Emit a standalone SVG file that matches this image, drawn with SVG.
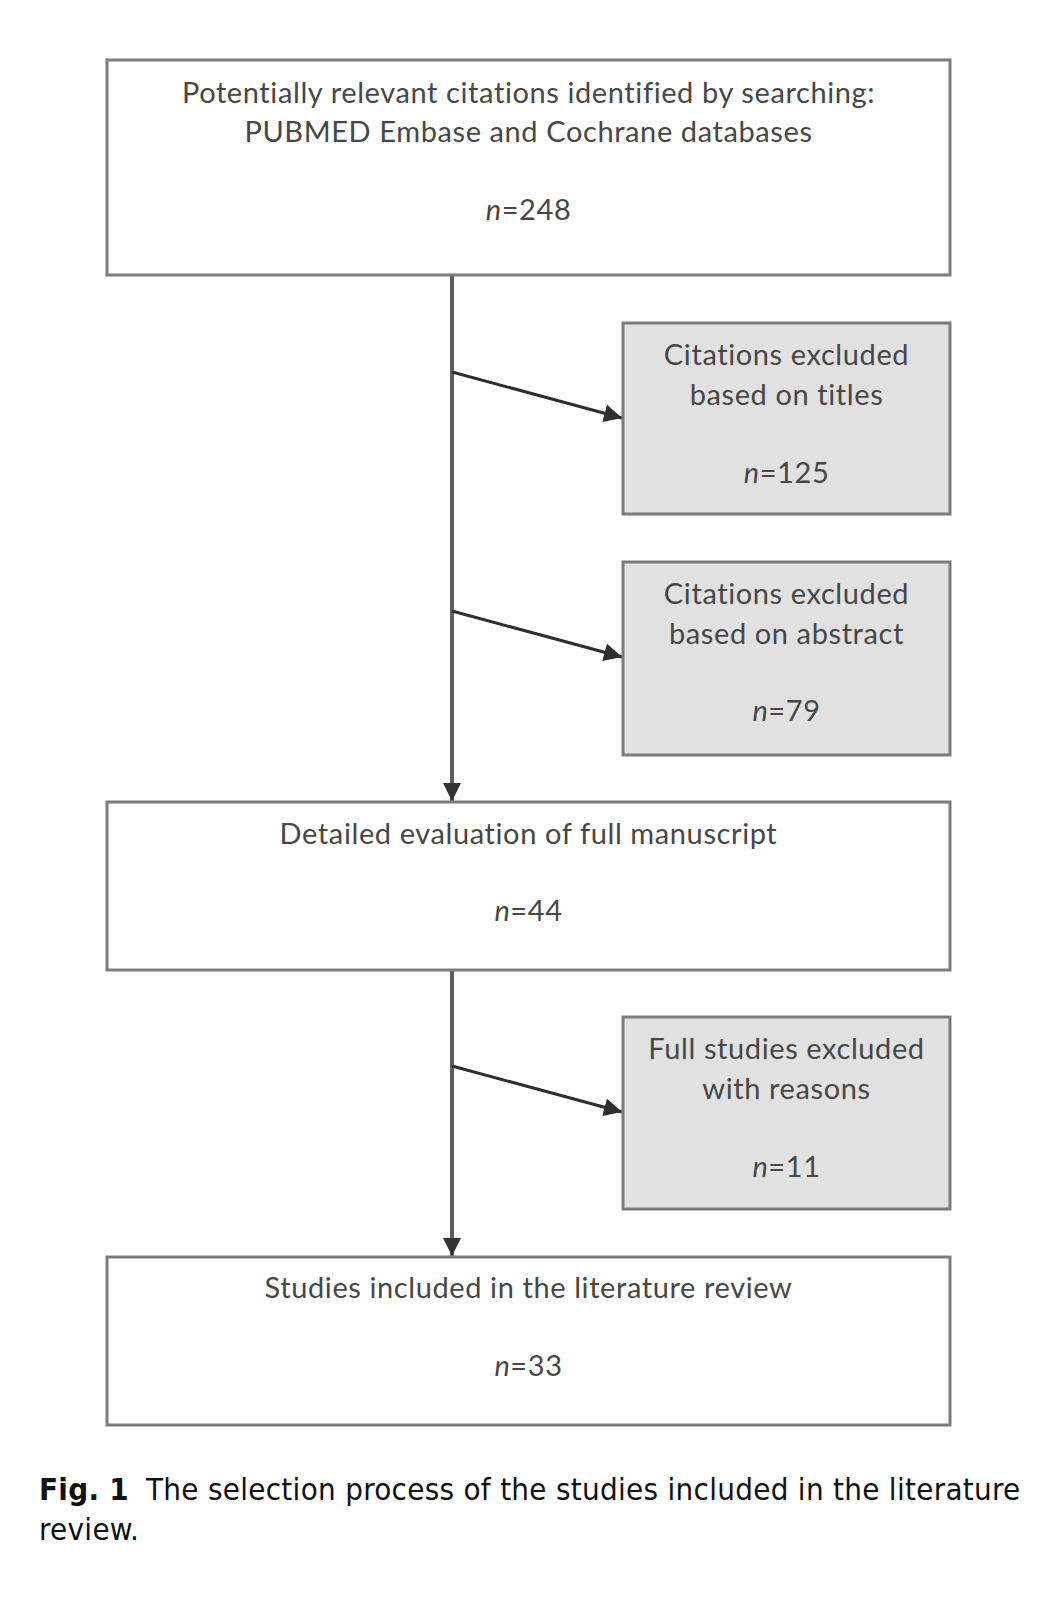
<svg xmlns="http://www.w3.org/2000/svg" width="1056" height="1600" viewBox="0 0 1056 1600">
<defs>
<style>
.box{fill:#ffffff;stroke:#7c7c7c;stroke-width:3}
.gbox{fill:#e1e1e1;stroke:#7c7c7c;stroke-width:3}
.t{font-family:Lato,"Open Sans","Liberation Sans",sans-serif;font-size:29px;letter-spacing:0.6px;fill:#474747;text-anchor:middle}
.it{font-style:italic}
.main{stroke:#5e5e5e;stroke-width:4;fill:none}
.side{stroke:#2e2e2e;stroke-width:3;fill:none}
.cap{font-family:"DejaVu Sans Condensed","DejaVu Sans",sans-serif;font-size:31px;letter-spacing:0.3px;fill:#111}
</style>
<marker id="ah" viewBox="0 0 10 10" refX="10" refY="5" markerWidth="6" markerHeight="6" markerUnits="strokeWidth" orient="auto">
<path d="M0,0 L10,5 L0,10 z" fill="#2e2e2e"/>
</marker>
<marker id="ahd" viewBox="0 0 10 10" refX="10" refY="5" markerWidth="4.5" markerHeight="4.5" markerUnits="strokeWidth" orient="auto">
<path d="M0,0 L10,5 L0,10 z" fill="#333"/>
</marker>
</defs>
<rect width="1056" height="1600" fill="#ffffff"/>

<g id="connectors">
<line class="main" x1="452" y1="275" x2="452" y2="801" marker-end="url(#ahd)"/>
<line class="main" x1="452" y1="970" x2="452" y2="1256" marker-end="url(#ahd)"/>
<line class="side" x1="452" y1="372" x2="622" y2="418" marker-end="url(#ah)"/>
<line class="side" x1="452" y1="611" x2="622" y2="657" marker-end="url(#ah)"/>
<line class="side" x1="452" y1="1066" x2="622" y2="1112" marker-end="url(#ah)"/>
</g>

<g id="n1">
<rect class="box" x="107" y="60" width="843" height="215"/>
<text class="t" x="528.5" y="103">Potentially relevant citations identified by searching:</text>
<text class="t" x="528.5" y="142">PUBMED Embase and Cochrane databases</text>
<text class="t" x="528.5" y="220"><tspan class="it">n</tspan>=248</text>
</g>

<g id="n2">
<rect class="gbox" x="623" y="323" width="327" height="191"/>
<text class="t" x="786.5" y="365">Citations excluded</text>
<text class="t" x="786.5" y="405">based on titles</text>
<text class="t" x="786.5" y="483"><tspan class="it">n</tspan>=125</text>
</g>

<g id="n3">
<rect class="gbox" x="623" y="562" width="327" height="193"/>
<text class="t" x="786.5" y="604">Citations excluded</text>
<text class="t" x="786.5" y="644">based on abstract</text>
<text class="t" x="786.5" y="721"><tspan class="it">n</tspan>=79</text>
</g>

<g id="n4">
<rect class="box" x="107" y="802" width="843" height="168"/>
<text class="t" x="528.5" y="844">Detailed evaluation of full manuscript</text>
<text class="t" x="528.5" y="921"><tspan class="it">n</tspan>=44</text>
</g>

<g id="n5">
<rect class="gbox" x="623" y="1017" width="327" height="192"/>
<text class="t" x="786.5" y="1059">Full studies excluded</text>
<text class="t" x="786.5" y="1099">with reasons</text>
<text class="t" x="786.5" y="1177"><tspan class="it">n</tspan>=11</text>
</g>

<g id="n6">
<rect class="box" x="107" y="1257" width="843" height="168"/>
<text class="t" x="528.5" y="1298">Studies included in the literature review</text>
<text class="t" x="528.5" y="1376"><tspan class="it">n</tspan>=33</text>
</g>

<g id="caption">
<text class="cap" x="39" y="1500"><tspan font-weight="bold">Fig. 1</tspan><tspan x="146">The selection process of the studies included in the literature</tspan></text>
<text class="cap" x="39" y="1540">review.</text>
</g>
</svg>
